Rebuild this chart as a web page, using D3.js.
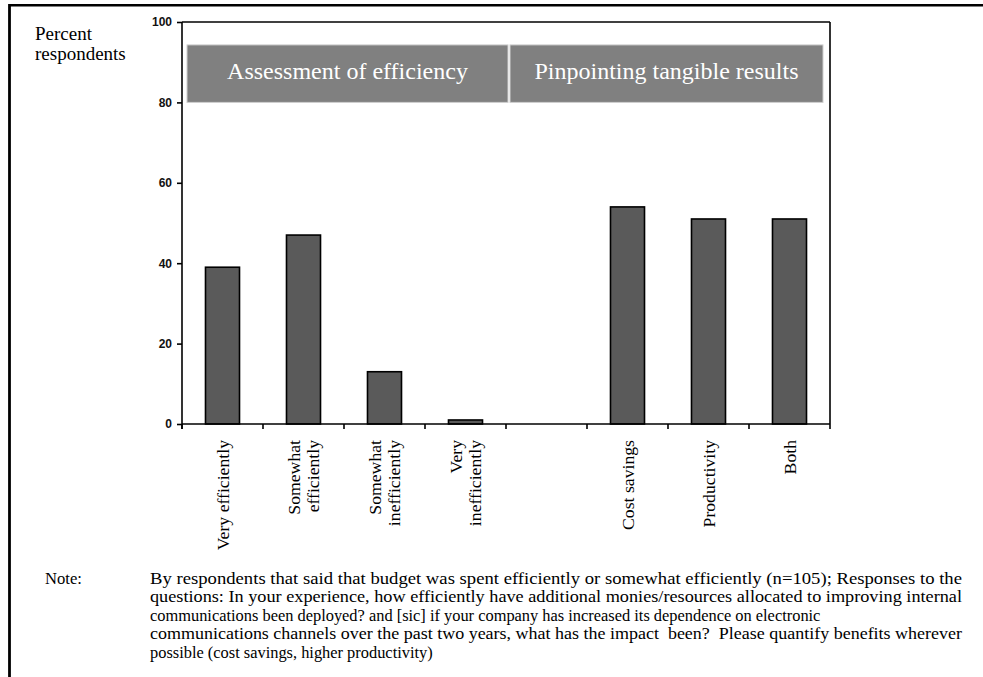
<!DOCTYPE html>
<html>
<head>
<meta charset="utf-8">
<script src="https://cdn.jsdelivr.net/npm/d3@7"></script>
<style>
  body { margin: 0; background: #fff; }
  svg { display: block; }
</style>
</head>
<body>
<div id="chart"></div>
<script>
// categories and values (index 4 is an empty spacer slot)
var categories = ["Very efficiently", "Somewhat efficiently", "Somewhat inefficiently", "Very inefficiently",
                  "", "Cost savings", "Productivity", "Both"];
var values = [39, 47, 13, 1, null, 54, 51, 51];
var labelLines = [["Very efficiently"], ["Somewhat", "efficiently"], ["Somewhat", "inefficiently"],
                  ["Very", "inefficiently"], [], ["Cost savings"], ["Productivity"], ["Both"]];
var yTicks = [0, 20, 40, 60, 80, 100];
var headers = ["Assessment of efficiency", "Pinpointing tangible results"];
var noteLines = [
    "By respondents that said that budget was spent efficiently or somewhat efficiently (n=105); Responses to the",
    "questions: In your experience, how efficiently have additional monies/resources allocated to improving internal",
    "communications been deployed? and [sic] if your company has increased its dependence on electronic",
    "communications channels over the past two years, what has the impact  been?  Please quantify benefits wherever",
    "possible (cost savings, higher productivity)"
];
// full-width lines of the note (others end with a hard break)
var noteJustify = [true, true, false, true, false];

var width = 983, height = 677;
var serif = "'Liberation Serif', 'Times New Roman', serif";

var svg = d3.select("#chart").append("svg")
    .attr("width", width)
    .attr("height", height);

//outer frame (top + left only)
svg.append("line").attr("x1", 9).attr("x2", width).attr("y1", 5.3).attr("y2", 5.3)
    .style("stroke", "#000").style("stroke-width", 2.6);
svg.append("line").attr("x1", 9.5).attr("x2", 9.5).attr("y1", 4).attr("y2", height)
    .style("stroke", "#000").style("stroke-width", 2.8);

//scales
var x = d3.scaleBand().domain(categories).range([182, 830]).padding(0);
var y = d3.scaleLinear().domain([0, 100]).range([424, 22]);
var bw = x.bandwidth();
var barW = bw * 0.42;

//header boxes: first covers the four efficiency bands, second the rest
var hdr = [
    {text: headers[0], x0: x(categories[0]) + 5, x1: x(categories[4]) + 2},
    {text: headers[1], x0: x(categories[4]) + 4, x1: x(categories[7]) + bw - 7}
];
var hg = svg.append("g").selectAll("g").data(hdr).enter().append("g");
hg.append("rect")
    .attr("x", function(d){ return d.x0; })
    .attr("y", y(94.3))
    .attr("width", function(d){ return d.x1 - d.x0; })
    .attr("height", y(80) - y(94.3))
    .style("fill", "#808080")
    .style("stroke", "#cfcfcf")
    .style("stroke-width", 1);
hg.append("text")
    .attr("x", function(d){ return (d.x0 + d.x1) / 2; })
    .attr("y", y(80) - 23)
    .attr("text-anchor", "middle")
    .style("font-family", serif)
    .style("font-size", "24px")
    .style("fill", "#fff")
    .text(function(d){ return d.text; });

//bars
svg.append("g").selectAll("rect")
    .data(categories.map(function(c, i){ return {cat: c, v: values[i]}; }).filter(function(d){ return d.v != null; }))
    .enter().append("rect")
    .attr("x", function(d){ return x(d.cat) + (bw - barW) / 2; })
    .attr("y", function(d){ return y(d.v); })
    .attr("width", barW)
    .attr("height", function(d){ return y(0) - y(d.v); })
    .style("fill", "#5a5a5a")
    .style("stroke", "#000")
    .style("stroke-width", 1.6);

//plot frame: top and right
svg.append("line").attr("x1", 182).attr("x2", 830).attr("y1", y(100)).attr("y2", y(100))
    .style("stroke", "#000").style("stroke-width", 1.6);
svg.append("line").attr("x1", 830).attr("x2", 830).attr("y1", y(100)).attr("y2", y(0))
    .style("stroke", "#000").style("stroke-width", 1.6);

//y axis
var yAxis = svg.append("g")
    .attr("transform", "translate(182,0)")
    .call(d3.axisLeft(y).tickValues(yTicks).tickSize(5).tickPadding(5));
yAxis.select(".domain").attr("d", "M0," + y(100) + "V" + (y(0) + 5));
yAxis.selectAll("line, path").style("stroke", "#000").style("stroke-width", 1.6);
yAxis.selectAll("text")
    .style("font-family", "'Liberation Sans', Arial, sans-serif")
    .style("font-weight", "bold")
    .style("font-size", "12px")
    .style("fill", "#111");

//x axis: ticks at band edges
var edges = categories.map(function(c){ return x(c); }).concat([830]);
var xAxis = svg.append("g");
xAxis.append("line").attr("x1", 182).attr("x2", 830).attr("y1", y(0)).attr("y2", y(0))
    .style("stroke", "#000").style("stroke-width", 1.6);
xAxis.selectAll(".tk").data(edges).enter().append("line")
    .attr("class", "tk")
    .attr("x1", function(d){ return d; }).attr("x2", function(d){ return d; })
    .attr("y1", y(0)).attr("y2", y(0) + 5)
    .style("stroke", "#000").style("stroke-width", 1.6);

//rotated category labels
var lh = 19.5;
var lab = svg.append("g").selectAll("text")
    .data(categories.map(function(c, i){ return {cat: c, lines: labelLines[i]}; }))
    .enter().append("text")
    .attr("transform", function(d){ return "translate(" + (x(d.cat) + bw / 2) + ",440) rotate(-90)"; })
    .attr("text-anchor", "end")
    .style("font-family", serif)
    .style("font-size", "17.7px")
    .style("fill", "#000");
lab.selectAll("tspan")
    .data(function(d){
        var n = d.lines.length;
        return d.lines.map(function(t, i){ return {t: t, off: (i - (n - 1) / 2) * lh}; });
    })
    .enter().append("tspan")
    .attr("x", 0)
    .attr("y", function(d){ return d.off; })
    .attr("dy", "0.35em")
    .text(function(d){ return d.t; });

//y title
svg.append("text")
    .style("font-family", serif)
    .style("font-size", "19px")
    .selectAll("tspan").data(["Percent", "respondents"]).enter().append("tspan")
    .attr("x", 35)
    .attr("y", function(d, i){ return 40 + i * 19.5; })
    .text(function(d){ return d; });

//note
var noteLeft = 150, noteRight = 962;
svg.append("text")
    .attr("x", 45).attr("y", 584)
    .style("font-family", serif)
    .style("font-size", "16.6px")
    .text("Note:");
svg.append("g").selectAll("text")
    .data(noteLines)
    .enter().append("text")
    .attr("x", noteLeft)
    .attr("y", function(d, i){ return 584 + i * 18.4; })
    .style("font-family", serif)
    .style("font-size", "16.4px")
    .style("white-space", "pre")
    .text(function(d){ return d; })
    .each(function(d, i){
        //full lines are stretched out to the right margin
        if (!noteJustify[i]) return;
        d3.select(this)
            .attr("textLength", noteRight - noteLeft)
            .attr("lengthAdjust", "spacingAndGlyphs");
    });
</script>
</body>
</html>
